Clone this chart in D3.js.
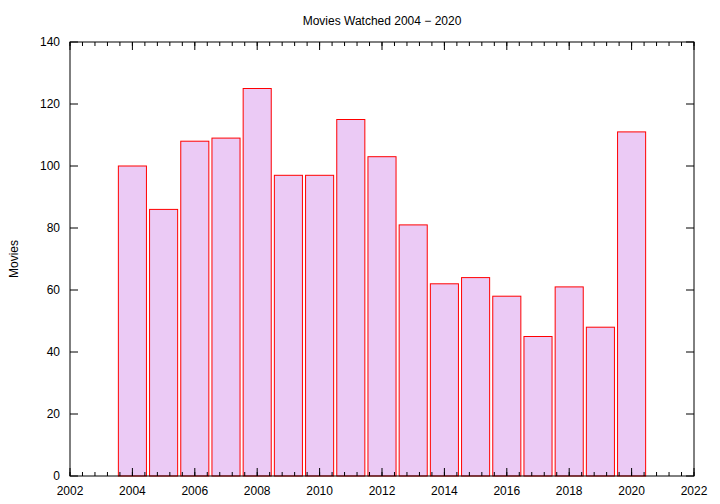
<!DOCTYPE html>
<html><head><meta charset="utf-8">
<script src="https://cdn.jsdelivr.net/npm/d3@7"></script>
<style>body{margin:0;background:#fff}text{font-family:"Liberation Sans",Arial,sans-serif;font-size:12px}</style>
</head><body><svg id="c" width="720" height="504"></svg>
<script>
const years=[2004,2005,2006,2007,2008,2009,2010,2011,2012,2013,2014,2015,2016,2017,2018,2019,2020];
const movies=[100,86,108,109,125,97,97,115,103,81,62,64,58,45,61,48,111];
const xTicks=[2002,2004,2006,2008,2010,2012,2014,2016,2018,2020,2022];
const yTicks=[0,20,40,60,80,100,120,140];
const svg=d3.select("#c");
const L=70,R=694,T=42,B=476;
const x=d3.scaleLinear().domain([2002,2022]).range([L,R]);
const y=d3.scaleLinear().domain([0,140]).range([B,T]);
svg.selectAll("rect.b").data(years).join("rect").attr("class","b")
 .attr("x",d=>x(d-0.45)).attr("width",d=>x(d+0.45)-x(d-0.45))
 .attr("y",(d,i)=>y(movies[i])).attr("height",(d,i)=>B-y(movies[i]))
 .attr("fill","#ebcaf5").attr("stroke","#ff0000").attr("stroke-width",1);
const g=svg.append("g").attr("stroke","#000").attr("stroke-width",1);
g.append("rect").attr("x",L).attr("y",T).attr("width",R-L).attr("height",B-T).attr("fill","none");
const minor=d3.range(2002,2022.001,0.4);
minor.forEach(v=>{g.append("line").attr("x1",x(v)).attr("x2",x(v)).attr("y1",B).attr("y2",B-4);
 g.append("line").attr("x1",x(v)).attr("x2",x(v)).attr("y1",T).attr("y2",T+4);});
xTicks.forEach(v=>{g.append("line").attr("x1",x(v)).attr("x2",x(v)).attr("y1",B).attr("y2",B-8);
 g.append("line").attr("x1",x(v)).attr("x2",x(v)).attr("y1",T).attr("y2",T+8);
 svg.append("text").attr("x",x(v)).attr("y",B+19).attr("text-anchor","middle").text(v);});
yTicks.forEach(v=>{g.append("line").attr("x1",L).attr("x2",L+8).attr("y1",y(v)).attr("y2",y(v));
 g.append("line").attr("x1",R).attr("x2",R-8).attr("y1",y(v)).attr("y2",y(v));
 svg.append("text").attr("x",L-10).attr("y",y(v)+4).attr("text-anchor","end").text(v);});
svg.append("text").attr("x",382).attr("y",25).attr("text-anchor","middle").text("Movies Watched 2004 \u2212 2020");
svg.append("text").attr("transform","translate(18,259) rotate(-90)").attr("text-anchor","middle").text("Movies");
</script></body></html>
